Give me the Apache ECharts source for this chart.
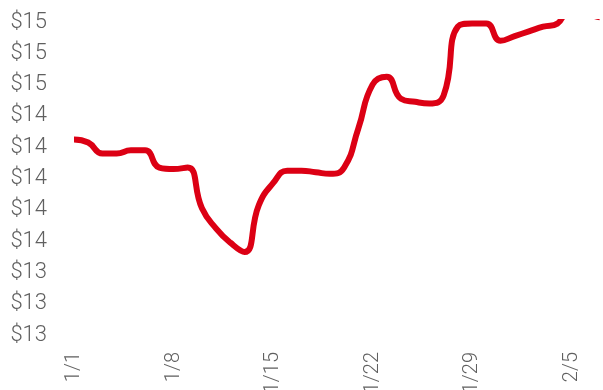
<!DOCTYPE html>
<html>
<head>
<meta charset="utf-8">
<script src="https://cdn.jsdelivr.net/npm/echarts@6/dist/echarts.min.js"></script>
<style>
  html, body { margin: 0; padding: 0; background: #fff; }
  #chart { width: 603px; height: 390px; }
</style>
</head>
<body>
<div id="chart"></div>
<script>
// Daily dates from 1/1 through 2/7
const dates = [
  '1/1','1/2','1/3','1/4','1/5','1/6','1/7','1/8','1/9','1/10',
  '1/11','1/12','1/13','1/14','1/15','1/16','1/17','1/18','1/19','1/20',
  '1/21','1/22','1/23','1/24','1/25','1/26','1/27','1/28','1/29','1/30',
  '1/31','2/1','2/2','2/3','2/4','2/5','2/6','2/7'
];

// Daily price in dollars
const prices = [
  14.25, 14.23, 14.16, 14.16, 14.18, 14.18, 14.07, 14.06, 14.07, 13.81,
  13.68, 13.59, 13.53, 13.83, 13.97, 14.05, 14.05, 14.04, 14.03, 14.07,
  14.32, 14.60, 14.65, 14.51, 14.49, 14.48, 14.53, 14.97, 14.99, 14.99,
  14.88, 14.91, 14.94, 14.97, 14.99, 15.12, 15.06, 15.03
];

// Value axis bounds and step
const yMin = 13.0;
const yMax = 15.0;
const yStep = 0.2;

const labelFont = 'Roboto';
const labelColor = '#606060';

const chart = echarts.init(document.getElementById('chart'), null, { renderer: 'canvas' });

chart.setOption({
  animation: false,
  backgroundColor: '#ffffff',
  grid: {
    left: 74, right: 3, top: 22, bottom: 55,
    containLabel: false,
    // let the rotated date labels run past the bottom edge
    outerBoundsMode: 'none'
  },
  xAxis: {
    type: 'category',
    data: dates,
    boundaryGap: false,
    axisLine: { show: false },
    axisTick: { show: false },
    splitLine: { show: false },
    axisLabel: {
      interval: 6,
      rotate: 90,
      margin: 17,
      fontFamily: labelFont,
      fontWeight: 300,
      fontSize: 20,
      color: labelColor
    }
  },
  yAxis: {
    type: 'value',
    min: yMin,
    max: yMax,
    interval: yStep,
    axisLine: { show: false },
    axisTick: { show: false },
    splitLine: { show: false },
    axisLabel: {
      margin: 27,
      fontFamily: labelFont,
      fontWeight: 300,
      fontSize: 22,
      color: labelColor,
      formatter: v => '$' + Math.round(v)
    }
  },
  series: [{
    type: 'line',
    data: prices,
    smooth: 0.5,
    symbol: 'none',
    clip: true,
    lineStyle: { color: '#dc0014', width: 6 }
  }]
});
</script>
</body>
</html>
